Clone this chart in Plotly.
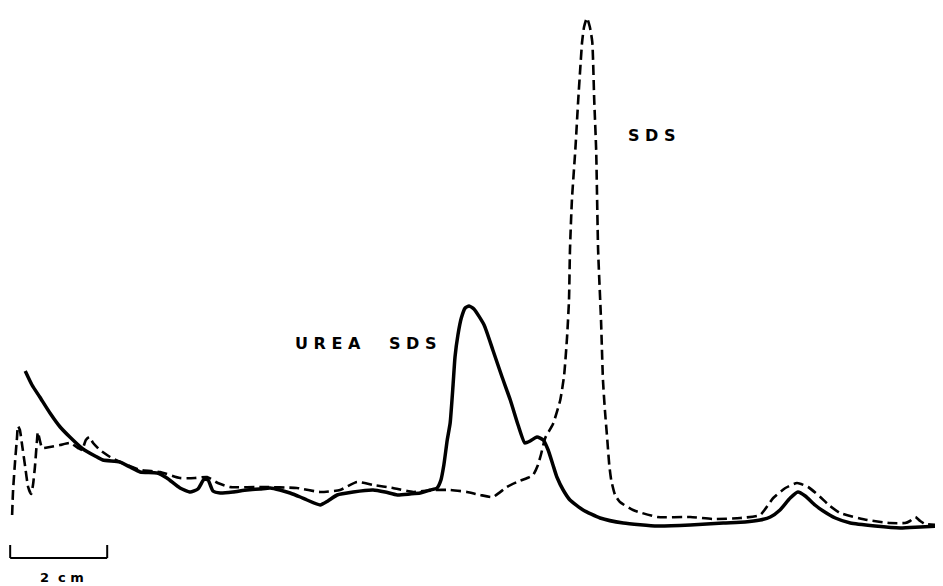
import plotly.graph_objects as go

# Densitometer scans; x = migration distance (mm), y = relative absorbance (a.u.)
urea_sds_x = [5.2, 6.6, 8.2, 10.3, 12.4, 14.4, 17.1, 19.6, 21.2, 24.7, 26.8, 28.9, 32.4, 34.4,
              37.1, 39.2, 40.8, 42.1, 42.9, 43.9, 45.4, 48.0, 50.9, 53.6, 55.7, 57.7, 59.8, 61.9,
              63.3, 66.0, 67.6, 69.5, 72.8, 76.9, 79.4, 81.9, 84.5, 86.6, 88.7,
              90.1, 90.9, 91.5, 92.2, 92.8, 93.4, 93.8, 94.4, 95.1, 95.9, 96.7, 97.7,
              99.8, 101.6, 103.5, 105.2, 106.8, 108.2, 109.3, 110.7, 112.0, 113.0, 114.0, 114.8,
              116.1, 117.5, 120.2, 123.7, 128.5, 135.5, 142.3, 149.1, 153.6, 156.7, 158.8, 160.8,
              162.9, 164.5, 166.0, 168.0, 169.7, 172.2, 175.3, 180.4, 185.6, 189.7, 194.4]
urea_sds_y = [1.59, 1.45, 1.33, 1.17, 1.03, 0.93, 0.81, 0.74, 0.70, 0.68, 0.63, 0.58, 0.57, 0.52,
              0.42, 0.38, 0.41, 0.51, 0.50, 0.39, 0.37, 0.38, 0.40, 0.41, 0.42, 0.40, 0.37, 0.33,
              0.30, 0.25, 0.29, 0.35, 0.38, 0.40, 0.38, 0.35, 0.36, 0.37, 0.40,
              0.42, 0.50, 0.65, 0.90, 1.07, 1.45, 1.73, 1.95, 2.12, 2.22, 2.24, 2.21,
              2.05, 1.80, 1.53, 1.30, 1.05, 0.87, 0.89, 0.93, 0.90, 0.80, 0.65, 0.53,
              0.40, 0.30, 0.20, 0.12, 0.07, 0.04, 0.05, 0.07, 0.08, 0.10, 0.13, 0.20,
              0.32, 0.38, 0.34, 0.25, 0.19, 0.12, 0.07, 0.04, 0.02, 0.03, 0.04]

sds_x = [2.5, 2.7, 3.1, 3.5, 3.7, 4.1, 4.5, 5.2, 5.8, 6.4, 6.8, 7.2, 7.6, 7.8, 8.2, 8.7,
         10.3, 12.4, 14.4, 16.1, 16.9, 17.7, 18.4, 19.2, 20.6, 22.7, 24.7, 28.9, 33.0, 37.1,
         40.2, 42.7, 44.9, 47.4, 54.2, 61.2, 66.0, 70.1, 73.6, 76.9, 81.0, 85.2, 89.3, 92.8,
         96.3, 99.0, 101.6, 104.5, 106.6, 108.7, 109.9, 110.9, 111.5, 112.4, 114.0, 115.5,
         116.3, 116.9, 117.3, 117.5, 117.9, 118.6, 119.2, 119.6, 120.0, 120.4, 121.0, 121.6,
         122.1, 122.5, 122.9, 123.3, 123.9, 124.3, 124.7, 125.2, 125.6, 126.0, 126.8, 127.8,
         130.5, 135.5, 142.3, 147.0, 152.6, 156.7, 159.4, 161.9, 164.3, 166.6, 169.1, 171.1,
         173.2, 178.8, 183.5, 186.6, 187.6, 188.7, 189.7, 190.7, 194.4]
sds_y = [0.15, 0.40, 0.68, 0.92, 1.04, 1.00, 0.87, 0.63, 0.43, 0.36, 0.45, 0.63, 0.88, 0.98, 0.90, 0.82,
         0.83, 0.85, 0.87, 0.82, 0.80, 0.90, 0.93, 0.87, 0.80, 0.73, 0.68, 0.60, 0.58, 0.52,
         0.52, 0.53, 0.47, 0.43, 0.43, 0.42, 0.38, 0.40, 0.48, 0.45, 0.42, 0.38, 0.40, 0.40,
         0.38, 0.35, 0.33, 0.43, 0.48, 0.52, 0.55, 0.65, 0.75, 0.92, 1.06, 1.30,
         1.55, 1.93, 2.30, 2.80, 3.30, 3.80, 4.30, 4.60, 4.88, 5.03, 5.12, 5.03,
         4.88, 4.30, 3.80, 2.80, 2.10, 1.50, 1.20, 0.90, 0.65, 0.50, 0.35, 0.28,
         0.20, 0.13, 0.13, 0.11, 0.12, 0.15, 0.32, 0.42, 0.47, 0.43, 0.33, 0.24,
         0.17, 0.10, 0.07, 0.07, 0.09, 0.13, 0.09, 0.06, 0.05]

label_texts = ["UREA", "SDS", "SDS"]
label_x = [67.7, 85.0, 134.4]
label_y = [1.87, 1.87, 3.95]

scale_start_mm = 2.1
scale_len_mm = 20.0
scale_label = "2 cm"

FONT = "DejaVu Sans, Liberation Sans, Arial"


def spaced(s, gap=1):
    sp = "\u00a0" * gap
    return sp.join(list(s.replace(" ", "\u00a0")))


fig = go.Figure()
fig.add_trace(go.Scatter(x=sds_x, y=sds_y, mode="lines",
                         line=dict(color="black", width=2.6, dash="10px,5px", shape="spline", smoothing=0.5),
                         hoverinfo="skip", showlegend=False))
fig.add_trace(go.Scatter(x=urea_sds_x, y=urea_sds_y, mode="lines",
                         line=dict(color="black", width=3.5, shape="spline", smoothing=0.5),
                         hoverinfo="skip", showlegend=False))

for t, x, y in zip(label_texts, label_x, label_y):
    fig.add_annotation(x=x, y=y, text="<b>" + spaced(t) + "</b>", showarrow=False,
                       font=dict(family=FONT, size=16, color="black"),
                       xanchor="center", yanchor="middle")

# scale bar
bar_y = -0.28
tick_top = -0.15
fig.add_shape(type="line", x0=scale_start_mm, x1=scale_start_mm + scale_len_mm, y0=bar_y, y1=bar_y,
              line=dict(color="black", width=2))
for xx in [scale_start_mm, scale_start_mm + scale_len_mm]:
    fig.add_shape(type="line", x0=xx, x1=xx, y0=bar_y, y1=tick_top, line=dict(color="black", width=2))
fig.add_annotation(x=12.8, y=-0.47, text="<b>2\u00a0\u00a0c\u00a0m</b>",
                   showarrow=False, font=dict(family=FONT, size=13, color="black"),
                   xanchor="center", yanchor="middle")

# page body has an 8px margin; the figure fills the rest of the 943x586 window
fig.update_layout(width=935, height=578, margin=dict(l=0, r=0, t=0, b=0),
                  paper_bgcolor="white", plot_bgcolor="white")
fig.update_xaxes(range=[1.65, 194.4], visible=False, showgrid=False, zeroline=False)
fig.update_yaxes(range=[-0.56, 5.22], visible=False, showgrid=False, zeroline=False)

fig.write_html("out.html")
